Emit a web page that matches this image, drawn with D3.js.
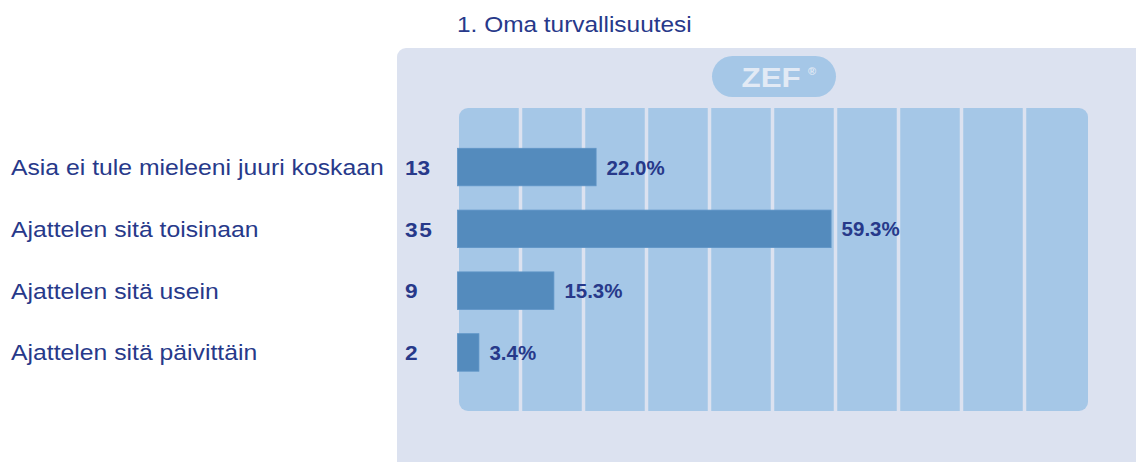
<!DOCTYPE html>
<html><head><meta charset="utf-8">
<script src="https://cdn.jsdelivr.net/npm/d3@7"></script>
<style>
html,body{margin:0;padding:0;background:#fff;}
svg{display:block;}
text{font-family:"Liberation Sans",Arial,Helvetica,sans-serif;}
</style></head>
<body>
<svg id="chart" width="1136" height="462"></svg>
<script>
const title = "1. Oma turvallisuutesi";
const categories = ["Asia ei tule mieleeni juuri koskaan","Ajattelen sitä toisinaan","Ajattelen sitä usein","Ajattelen sitä päivittäin"];
const counts = [13, 35, 9, 2];
const percents = [22.0, 59.3, 15.3, 3.4];
const gridTicks = [10,20,30,40,50,60,70,80,90];

const C = {panel:"#dce2f0", plot:"#a5c7e7", bar:"#548bbd", text:"#27398a", logoText:"#e2eaf5"};
const svg = d3.select("#chart");
const W = 1136, H = 462;

const x = d3.scaleLinear().domain([0,100]).range([457.5,1087.5]);
const y = d3.scaleBand().domain(categories).range([148.3,371.2]).paddingInner(0.393).paddingOuter(0);

// outer panel
svg.append("rect").attr("x",397).attr("y",48).attr("width",W-397+20).attr("height",H-48+20)
  .attr("rx",9).attr("fill",C.panel);

// plot area
const plotTop = 108, plotBottom = 411;
svg.append("rect").attr("x",x(0)+1.5).attr("y",plotTop).attr("width",x(100)-x(0)-1).attr("height",plotBottom-plotTop)
  .attr("rx",9).attr("fill",C.plot);
svg.append("g").selectAll("line").data(gridTicks).join("line")
  .attr("x1",d=>x(d)).attr("x2",d=>x(d)).attr("y1",plotTop).attr("y2",plotBottom)
  .attr("stroke",C.panel).attr("stroke-width",3.5);

// ZEF logo
svg.append("rect").attr("x",712).attr("y",56).attr("width",124).attr("height",41).attr("rx",20.5).attr("fill",C.plot);
svg.append("text").attr("transform","translate(741.5,86.7) scale(1.12,1)")
  .attr("font-size",28).attr("font-weight","bold").attr("fill",C.logoText).text("ZEF");
svg.append("text").attr("x",808).attr("y",75).attr("font-size",11).attr("font-weight","bold")
  .attr("fill",C.logoText).text("®");

// title
svg.append("text").attr("transform","translate(457,32) scale(1.11,1)")
  .attr("font-size",22).attr("fill",C.text).text(title);

// category labels
svg.append("g").selectAll("text").data(categories).join("text")
  .attr("transform",d=>`translate(11,${y(d)+y.bandwidth()/2+8}) scale(1.125,1)`)
  .attr("font-size",22).attr("fill",C.text).text(d=>d);

// counts
svg.append("g").selectAll("text").data(categories).join("text")
  .attr("transform",(d,i)=>`translate(405,${y(d)+y.bandwidth()/2+7.7}) scale(1.08,1)`)
  .attr("font-size",21).attr("font-weight","bold").attr("letter-spacing",(d,i)=>i===1?1.5:0)
  .attr("fill",C.text).text((d,i)=>counts[i]);

// bars
svg.append("g").selectAll("rect").data(categories).join("rect")
  .attr("x",x(0)).attr("y",d=>y(d)).attr("width",(d,i)=>x(percents[i])-x(0)).attr("height",y.bandwidth())
  .attr("fill",C.bar).attr("stroke","#5f95c7").attr("stroke-width",0.8);

// percent labels
svg.append("g").selectAll("text").data(categories).join("text")
  .attr("x",(d,i)=>x(percents[i])+10.5).attr("y",d=>y(d)+y.bandwidth()/2+7.5)
  .attr("font-size",20.5).attr("font-weight","bold").attr("fill",C.text)
  .text((d,i)=>percents[i].toFixed(1)+"%");
</script>
</body></html>
